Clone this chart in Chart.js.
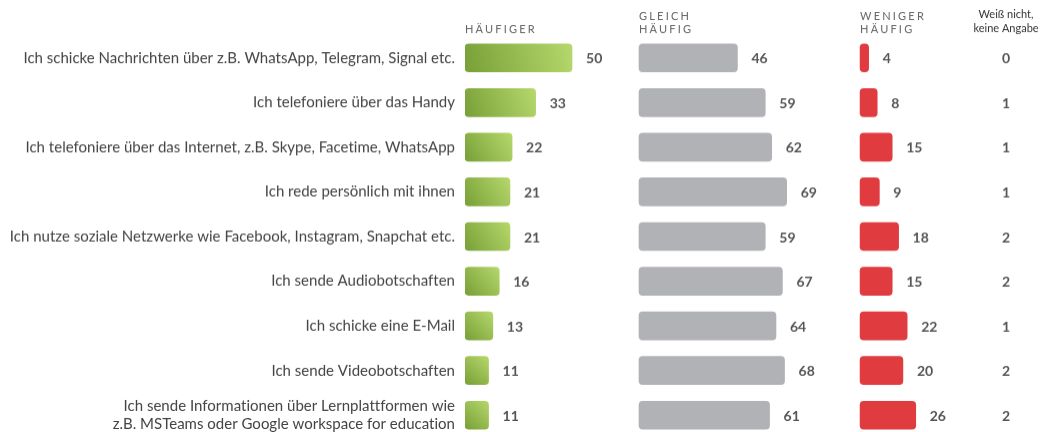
<!DOCTYPE html>
<html>
<head>
<meta charset="utf-8">
<script src="https://cdn.jsdelivr.net/npm/chart.js@4/dist/chart.umd.min.js"></script>
<style>
  html, body { margin: 0; padding: 0; background: #fff; overflow: hidden; }
  #wrap { width: 1045px; height: 447.5px; }
</style>
</head>
<body>
<div id="wrap"><canvas id="chart"></canvas></div>
<script>
const categories = [
  'Ich schicke Nachrichten über z.B. WhatsApp, Telegram, Signal etc.',
  'Ich telefoniere über das Handy',
  'Ich telefoniere über das Internet, z.B. Skype, Facetime, WhatsApp',
  'Ich rede persönlich mit ihnen',
  'Ich nutze soziale Netzwerke wie Facebook, Instagram, Snapchat etc.',
  'Ich sende Audiobotschaften',
  'Ich schicke eine E-Mail',
  'Ich sende Videobotschaften',
  ['Ich sende Informationen über Lernplattformen wie', 'z.B. MSTeams oder Google workspace for education']
];
const haeufiger = [50, 33, 22, 21, 21, 16, 13, 11, 11];
const gleichHaeufig = [46, 59, 62, 69, 59, 67, 64, 68, 61];
const wenigerHaeufig = [4, 8, 15, 9, 18, 15, 22, 20, 26];
const weissNicht = [0, 1, 1, 1, 2, 2, 1, 2, 2];
const headers = [['HÄUFIGER'], ['GLEICH', 'HÄUFIG'], ['WENIGER', 'HÄUFIG']];

// where each panel starts on the shared x scale
const panelStart = [0, 81.3, 184.6];
const extraColumn = 252.8;
const series = [haeufiger, gleichHaeufig, wenigerHaeufig];

function floating(values, start) {
  return values.map(v => [start, start + v]);
}

function greenGradient(ctx) {
  const chart = ctx.chart;
  const xs = chart.scales.x, ys = chart.scales.y;
  if (!chart.chartArea || !xs || !ys || ctx.dataIndex === undefined) return '#9cc452';
  const x0 = xs.getPixelForValue(0);
  const x1 = xs.getPixelForValue(haeufiger[ctx.dataIndex]);
  const y = ys.getPixelForValue(ctx.dataIndex);
  if (![x0, x1, y].every(Number.isFinite)) return '#9cc452';
  const g = chart.ctx.createLinearGradient(x0, y + 14, x1, y - 14);
  g.addColorStop(0, '#78a037');
  g.addColorStop(1, '#b6d86c');
  return g;
}

const labelPlugin = {
  id: 'labels',
  beforeDraw(chart) {
    // tiny spacing keeps Lato from forming ligatures in the axis labels
    if ('letterSpacing' in chart.ctx) chart.ctx.letterSpacing = '0.01px';
  },
  afterDatasetsDraw(chart) {
    const ctx = chart.ctx;
    const xs = chart.scales.x, ys = chart.scales.y;
    ctx.save();
    ctx.fillStyle = '#555';
    ctx.font = 'bold 14px Lato';
    ctx.textBaseline = 'middle';
    ctx.textAlign = 'left';
    series.forEach((vals, p) => {
      vals.forEach((v, i) => {
        const x = xs.getPixelForValue(panelStart[p] + v) + 14;
        ctx.fillText(String(v), x, ys.getPixelForValue(i) + 1);
      });
    });
    ctx.textAlign = 'center';
    weissNicht.forEach((v, i) => {
      ctx.fillText(String(v), xs.getPixelForValue(extraColumn), ys.getPixelForValue(i) + 1);
    });

    // panel headers
    ctx.fillStyle = '#666';
    ctx.font = '11px Lato';
    ctx.textAlign = 'left';
    ctx.textBaseline = 'alphabetic';
    if ('letterSpacing' in ctx) ctx.letterSpacing = '2.2px';
    headers.forEach((lines, p) => {
      const x = xs.getPixelForValue(panelStart[p]);
      const base = 34 - lines.length * 13;
      lines.forEach((t, k) => ctx.fillText(t, x, base + (k + 1) * 13 - 1));
    });
    if ('letterSpacing' in ctx) ctx.letterSpacing = '0px';
    ctx.fillStyle = '#333';
    ctx.font = '11px Lato';
    ctx.textAlign = 'center';
    const cx = xs.getPixelForValue(extraColumn);
    ctx.fillText('Weiß nicht,', cx, 18);
    ctx.fillText('keine Angabe', cx, 32);
    ctx.restore();
  }
};

new Chart(document.getElementById('chart'), {
  type: 'bar',
  data: {
    labels: categories,
    datasets: [
      { label: 'Häufiger', data: floating(haeufiger, panelStart[0]), backgroundColor: greenGradient },
      { label: 'Gleich häufig', data: floating(gleichHaeufig, panelStart[1]), backgroundColor: '#b1b2b6' },
      { label: 'Weniger häufig', data: floating(wenigerHaeufig, panelStart[2]), backgroundColor: '#e03b3f' }
    ]
  },
  options: {
    indexAxis: 'y',
    responsive: true,
    maintainAspectRatio: false,
    animation: false,
    layout: { padding: { top: 35.5, bottom: 0, left: 0, right: 0 } },
    datasets: {
      bar: { grouped: false, barThickness: 28, borderRadius: 4, borderSkipped: false }
    },
    scales: {
      x: { display: false, min: 0, max: 271 },
      y: {
        grid: { display: false },
        border: { display: false },
        afterFit(scale) { scale.width = 465; },
        ticks: { color: '#444', padding: 2, font: { family: 'Lato', size: 15 } }
      }
    },
    plugins: {
      legend: { display: false },
      tooltip: { enabled: false }
    }
  },
  plugins: [labelPlugin]
});
</script>
</body>
</html>
